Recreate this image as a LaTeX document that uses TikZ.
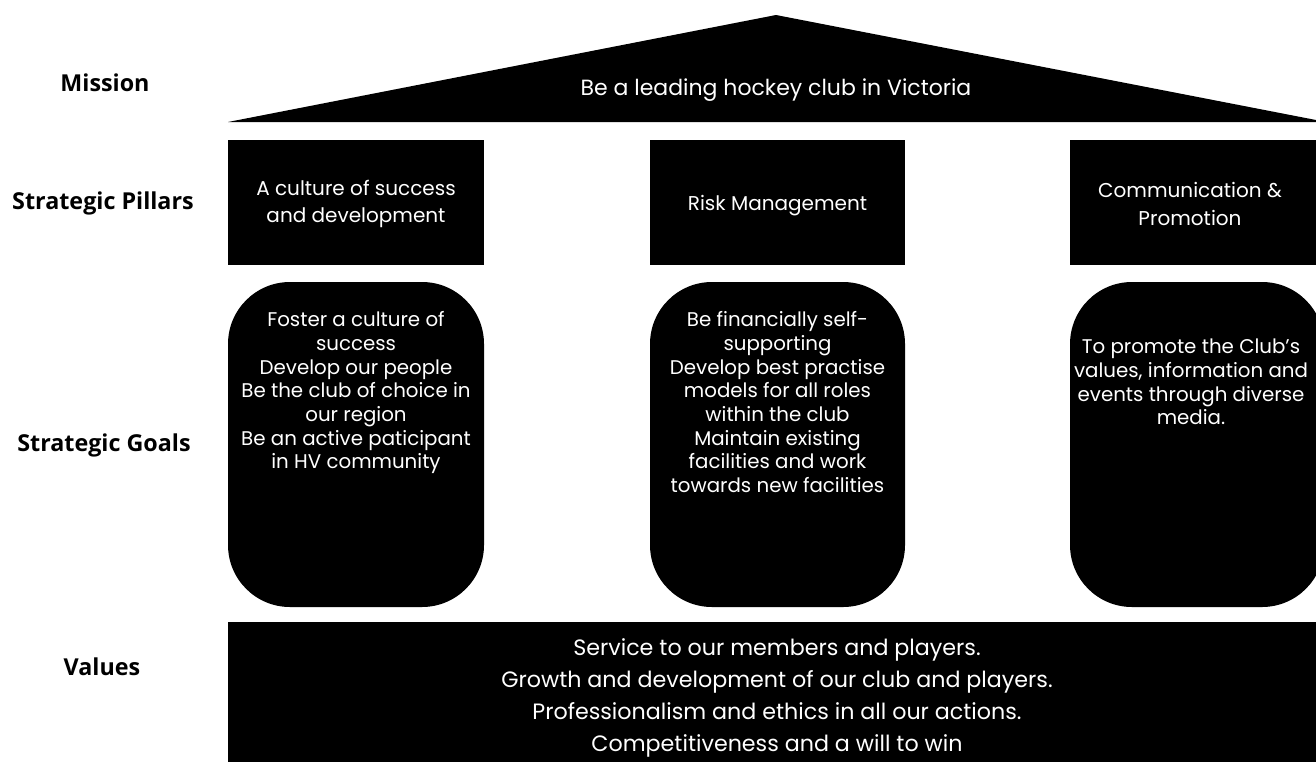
\documentclass[tikz,border=0pt]{standalone}
\usepackage{fontspec}
\setmainfont{Poppins}
\newfontfamily\labelfont{Open Sans}
\begin{document}
\begin{tikzpicture}[x=1pt,y=-1pt,
  rowlabel/.style={font=\labelfont\bfseries\fontsize{23.3}{26}\selectfont, text=black, anchor=center},
  pillarbox/.style={fill=black, draw=none, minimum height=125pt, inner sep=0pt},
  goalbox/.style={fill=black, draw=none, rounded corners=62pt, minimum height=325pt, inner sep=0pt},
  bodytext/.style={text=white, align=center, font=\fontsize{19.8}{23.7}\selectfont},
  pillartext/.style={text=white, align=center, font=\fontsize{20}{27.5}\selectfont}
]
\useasboundingbox (0,0) rectangle (1316,761);
\clip (0,0) rectangle (1316,761);
% roof
\coordinate (apex) at (776,15);
\coordinate (roofL) at (228,122);
\coordinate (roofR) at (1316,120);
\fill[black] (roofL) -- (apex) -- (roofR) -- (1316,122) -- cycle;
\node[text=white, font=\fontsize{22}{26}\selectfont] (mission) at (776,90) {Be a leading hockey club in Victoria};
% row labels
\node[rowlabel] (lmission) at (105,83) {Mission};
\node[rowlabel] (lpillars) at (103,203) {Strategic Pillars};
\node[rowlabel] (lgoals) at (104,445) {Strategic Goals};
\node[rowlabel] (lvalues) at (102,667) {Values};
% pillars
\node[pillarbox, minimum width=256pt] (p1) at (356,202.5) {};
\node[pillartext] (p1t) at (356,204) {A culture of success\\and development};
\node[pillarbox, minimum width=255pt] (p2) at (777.5,202.5) {};
\node[pillartext] (p2t) at (777.5,206) {Risk Management};
\node[pillarbox, minimum width=246pt] (p3) at (1193,202.5) {};
\node[pillartext] (p3t) at (1190,204) {Communication \&\\Promotion};
% goals
\node[goalbox, minimum width=256pt] (g1) at (356,444.5) {};
\node[bodytext, anchor=north] (g1t) at (356,308) {Foster a culture of\\success\\Develop our people\\Be the club of choice in\\our region\\Be an active paticipant\\in HV community};
\node[goalbox, minimum width=255pt] (g2) at (777.5,444.5) {};
\node[bodytext, anchor=north] (g2t) at (777.5,308) {Be financially self-\\supporting\\Develop best practise\\models for all roles\\within the club\\Maintain existing\\facilities and work\\towards new facilities};
\node[goalbox, minimum width=254pt] (g3) at (1197,444.5) {};
\node[bodytext] (g3t) at (1191,382) {To promote the Club’s\\values, information and\\events through diverse\\media.};
% values
\node[fill=black, minimum width=1088pt, minimum height=160pt, inner sep=0pt] (values) at (772,702) {};
\node[text=white, align=center, font=\fontsize{22.2}{32}\selectfont] (valuest) at (777,698) {Service to our members and players.\\Growth and development of our club and players.\\Professionalism and ethics in all our actions.\\Competitiveness and a will to win};
\end{tikzpicture}
\end{document}
